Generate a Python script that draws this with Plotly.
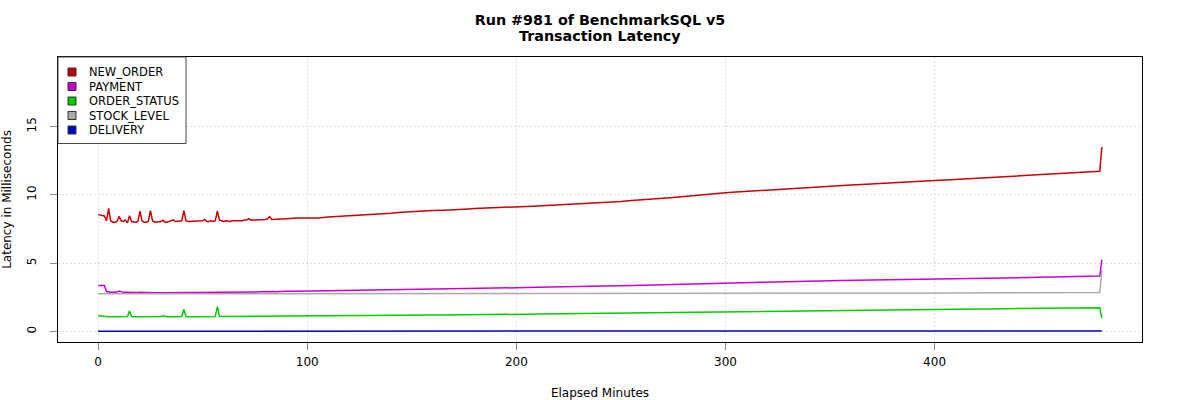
import plotly.graph_objects as go

# ---------------- data ----------------
series_names = ["NEW_ORDER", "PAYMENT", "ORDER_STATUS", "STOCK_LEVEL", "DELIVERY"]
series_colors = ["#CC0000", "#CC00CC", "#00CC00", "#AAAAAA", "#0000CC"]

# elapsed minutes: every minute up to 90, then every 5 minutes, then the last two samples
minutes_fine = list(range(0, 91))
minutes_coarse = list(range(95, 480, 5)) + [479, 480]
minutes = minutes_fine + minutes_coarse

new_order_fine = [
    8.55, 8.50, 8.50, 8.45, 8.10, 9.00, 8.10, 8.00, 8.00, 8.05,
    8.42, 8.10, 8.05, 8.15, 7.95, 8.47, 8.05, 8.00, 8.00, 8.05,
    8.80, 8.10, 8.00, 8.00, 8.05, 8.85, 8.10, 8.00, 8.00, 8.00,
    8.05, 8.15, 8.00, 8.00, 8.05, 8.10, 8.17, 8.05, 8.05, 8.05,
    8.10, 8.85, 8.10, 8.05, 8.05, 8.05, 8.10, 8.05, 8.05, 8.10,
    8.10, 8.20, 8.05, 8.05, 8.10, 8.05, 8.10, 8.80, 8.15, 8.10,
    8.05, 8.10, 8.05, 8.05, 8.10, 8.10, 8.10, 8.05, 8.10, 8.10,
    8.15, 8.15, 8.25, 8.15, 8.15, 8.15, 8.15, 8.20, 8.15, 8.15,
    8.20, 8.25, 8.40, 8.20, 8.20, 8.20, 8.20, 8.25, 8.20, 8.25,
    8.25,
]
new_order_coarse = [
    8.30, 8.32, 8.30, 8.38, 8.42, 8.45, 8.50, 8.55, 8.60, 8.65,
    8.72, 8.78, 8.80, 8.85, 8.88, 8.90, 8.95, 9.00, 9.02, 9.05,
    9.08, 9.10, 9.15, 9.18, 9.22, 9.25, 9.30, 9.32, 9.38, 9.42,
    9.48, 9.52, 9.58, 9.65, 9.70, 9.75, 9.80, 9.88, 9.95, 10.02,
    10.10, 10.15, 10.20, 10.25, 10.30, 10.35, 10.42, 10.47, 10.50, 10.55,
    10.60, 10.65, 10.68, 10.72, 10.75, 10.80, 10.85, 10.88, 10.92, 10.97,
    11.00, 11.05, 11.08, 11.12, 11.15, 11.20, 11.25, 11.30, 11.35, 11.40,
    11.42, 11.48, 11.52, 11.57, 11.60, 11.65, 11.68, 11.72, 13.50,
]

payment_fine = [
    3.36, 3.36, 3.37, 3.36, 2.92, 2.88, 2.87, 2.87, 2.86, 2.88,
    2.95, 2.88, 2.86, 2.86, 2.85, 2.85, 2.85, 2.84, 2.84, 2.85,
    2.86, 2.85, 2.84, 2.84, 2.84, 2.85, 2.85, 2.84, 2.84, 2.84,
    2.85, 2.87, 2.85, 2.84, 2.84, 2.85, 2.89, 2.85, 2.85, 2.84,
    2.85, 2.86, 2.85, 2.85, 2.85, 2.85, 2.85, 2.85, 2.86, 2.85,
    2.86, 2.88, 2.86, 2.86, 2.86, 2.86, 2.86, 2.87, 2.86, 2.86,
    2.86, 2.87, 2.87, 2.87, 2.87, 2.87, 2.88, 2.88, 2.88, 2.87,
    2.88, 2.88, 2.89, 2.88, 2.88, 2.89, 2.89, 2.90, 2.91, 2.90,
    2.90, 2.91, 2.90, 2.91, 2.92, 2.91, 2.92, 2.92, 2.93, 2.93,
    2.94,
]
payment_coarse = [
    2.95, 2.96, 2.97, 2.98, 3.00, 3.01, 3.02, 3.03, 3.05, 3.06,
    3.07, 3.08, 3.09, 3.10, 3.12, 3.13, 3.14, 3.15, 3.17, 3.18,
    3.19, 3.20, 3.21, 3.23, 3.24, 3.26, 3.27, 3.29, 3.30, 3.32,
    3.33, 3.35, 3.37, 3.39, 3.41, 3.44, 3.46, 3.48, 3.50, 3.52,
    3.54, 3.56, 3.57, 3.59, 3.60, 3.62, 3.63, 3.65, 3.66, 3.68,
    3.69, 3.71, 3.72, 3.73, 3.74, 3.76, 3.77, 3.78, 3.79, 3.80,
    3.82, 3.83, 3.84, 3.86, 3.87, 3.88, 3.89, 3.90, 3.92, 3.93,
    3.94, 3.96, 3.97, 3.99, 4.00, 4.02, 4.04, 4.05, 5.25,
]

order_status_fine = [
    1.14, 1.12, 1.10, 1.09, 1.08, 1.08, 1.08, 1.08, 1.08, 1.08,
    1.08, 1.08, 1.08, 1.08, 1.09, 1.50, 1.09, 1.08, 1.08, 1.08,
    1.08, 1.08, 1.08, 1.08, 1.08, 1.08, 1.08, 1.08, 1.08, 1.08,
    1.09, 1.15, 1.09, 1.08, 1.08, 1.08, 1.08, 1.08, 1.08, 1.08,
    1.09, 1.62, 1.09, 1.08, 1.08, 1.08, 1.08, 1.08, 1.08, 1.08,
    1.08, 1.08, 1.08, 1.09, 1.09, 1.09, 1.09, 1.82, 1.10, 1.09,
    1.09, 1.09, 1.09, 1.09, 1.09, 1.09, 1.09, 1.09, 1.10, 1.10,
    1.10, 1.10, 1.10, 1.10, 1.10, 1.10, 1.10, 1.10, 1.11, 1.11,
    1.11, 1.11, 1.11, 1.11, 1.11, 1.11, 1.12, 1.12, 1.12, 1.12,
    1.12,
]
order_status_coarse = [
    1.13, 1.14, 1.14, 1.15, 1.15, 1.16, 1.16, 1.17, 1.17, 1.18,
    1.18, 1.19, 1.20, 1.20, 1.21, 1.21, 1.22, 1.22, 1.23, 1.24,
    1.24, 1.25, 1.26, 1.27, 1.28, 1.29, 1.30, 1.31, 1.32, 1.33,
    1.34, 1.35, 1.36, 1.37, 1.38, 1.39, 1.40, 1.41, 1.42, 1.43,
    1.44, 1.45, 1.46, 1.47, 1.48, 1.49, 1.50, 1.51, 1.51, 1.52,
    1.53, 1.54, 1.55, 1.56, 1.57, 1.57, 1.58, 1.59, 1.60, 1.61,
    1.61, 1.62, 1.63, 1.63, 1.64, 1.65, 1.65, 1.66, 1.67, 1.67,
    1.68, 1.69, 1.69, 1.70, 1.71, 1.72, 1.73, 1.74, 0.98,
]

stock_level_fine = [
    2.76, 2.76, 2.76, 2.76, 2.75, 2.75, 2.75, 2.75, 2.75, 2.75,
    2.75, 2.75, 2.75, 2.75, 2.75, 2.75, 2.75, 2.75, 2.75, 2.75,
    2.75, 2.75, 2.75, 2.75, 2.75, 2.75, 2.75, 2.75, 2.75, 2.75,
    2.75, 2.75, 2.75, 2.75, 2.75, 2.75, 2.75, 2.75, 2.75, 2.75,
    2.75, 2.75, 2.75, 2.75, 2.75, 2.75, 2.75, 2.75, 2.75, 2.75,
    2.76, 2.76, 2.76, 2.76, 2.76, 2.76, 2.76, 2.76, 2.76, 2.76,
    2.76, 2.76, 2.76, 2.76, 2.76, 2.76, 2.76, 2.76, 2.76, 2.76,
    2.76, 2.76, 2.76, 2.76, 2.76, 2.76, 2.76, 2.76, 2.76, 2.76,
    2.76, 2.76, 2.76, 2.76, 2.76, 2.76, 2.76, 2.76, 2.76, 2.76,
    2.76,
]
stock_level_coarse = [
    2.76, 2.76, 2.76, 2.76, 2.76, 2.76, 2.76, 2.76, 2.76, 2.76,
    2.76, 2.76, 2.76, 2.77, 2.77, 2.77, 2.77, 2.77, 2.77, 2.77,
    2.77, 2.77, 2.77, 2.77, 2.77, 2.77, 2.77, 2.77, 2.77, 2.77,
    2.77, 2.77, 2.77, 2.77, 2.77, 2.77, 2.77, 2.77, 2.77, 2.77,
    2.77, 2.77, 2.78, 2.78, 2.78, 2.78, 2.78, 2.78, 2.78, 2.78,
    2.78, 2.79, 2.79, 2.79, 2.79, 2.79, 2.80, 2.80, 2.80, 2.80,
    2.80, 2.81, 2.81, 2.81, 2.81, 2.82, 2.82, 2.82, 2.82, 2.83,
    2.83, 2.83, 2.83, 2.84, 2.84, 2.84, 2.84, 2.85, 4.50,
]

delivery_fine = [
    0.02, 0.02, 0.02, 0.02, 0.02, 0.02, 0.02, 0.02, 0.02, 0.02,
    0.02, 0.02, 0.02, 0.02, 0.02, 0.02, 0.02, 0.02, 0.02, 0.02,
    0.02, 0.02, 0.02, 0.02, 0.02, 0.02, 0.02, 0.02, 0.02, 0.02,
    0.02, 0.02, 0.02, 0.02, 0.02, 0.02, 0.02, 0.02, 0.02, 0.02,
    0.02, 0.02, 0.02, 0.02, 0.02, 0.02, 0.02, 0.02, 0.02, 0.02,
    0.02, 0.02, 0.02, 0.02, 0.02, 0.02, 0.02, 0.02, 0.02, 0.02,
    0.02, 0.02, 0.02, 0.02, 0.02, 0.02, 0.02, 0.02, 0.02, 0.02,
    0.02, 0.02, 0.02, 0.02, 0.02, 0.02, 0.02, 0.02, 0.02, 0.02,
    0.02, 0.02, 0.02, 0.02, 0.02, 0.02, 0.02, 0.02, 0.02, 0.02,
    0.02,
]
delivery_coarse = [
    0.02, 0.02, 0.02, 0.02, 0.02, 0.02, 0.02, 0.02, 0.02, 0.02,
    0.02, 0.02, 0.02, 0.02, 0.02, 0.02, 0.02, 0.02, 0.02, 0.02,
    0.02, 0.02, 0.02, 0.02, 0.02, 0.02, 0.02, 0.02, 0.02, 0.02,
    0.02, 0.02, 0.02, 0.02, 0.02, 0.02, 0.02, 0.02, 0.02, 0.02,
    0.02, 0.02, 0.02, 0.02, 0.02, 0.02, 0.02, 0.02, 0.02, 0.02,
    0.02, 0.02, 0.02, 0.02, 0.02, 0.02, 0.02, 0.02, 0.02, 0.02,
    0.02, 0.02, 0.02, 0.02, 0.02, 0.02, 0.02, 0.02, 0.02, 0.02,
    0.02, 0.02, 0.02, 0.02, 0.02, 0.02, 0.02, 0.02, 0.03,
]

series_values = [
    new_order_fine + new_order_coarse,
    payment_fine + payment_coarse,
    order_status_fine + order_status_coarse,
    stock_level_fine + stock_level_coarse,
    delivery_fine + delivery_coarse,
]

x_ticks = [0, 100, 200, 300, 400]
y_ticks = [0, 5, 10, 15]

title_lines = ["Run #981 of BenchmarkSQL v5", "Transaction Latency"]
x_title = "Elapsed Minutes"
y_title = "Latency in Milliseconds"

# ---------------- figure ----------------
W, H = 1200, 400
ML, MR, MT, MB = 58, 58, 57, 58
PW, PH = W - ML - MR, H - MT - MB
FONT = "DejaVu Sans"

fig = go.Figure()
for name, color, vals in zip(series_names, series_colors, series_values):
    n = min(len(minutes), len(vals))
    fig.add_trace(go.Scatter(
        x=minutes[:n], y=vals[:n], mode="lines", name=name,
        line=dict(color=color, width=1.5), showlegend=False,
    ))

def px_x(p):
    return (p - ML) / PW

def px_y(p):
    return (H - MB - p) / PH

shapes = []
annotations = []

# second title line (tighter line spacing than a <br> would give)
annotations.append(dict(text="<b>" + title_lines[1] + "</b>", xref="paper", yref="paper",
                        x=0.5, y=px_y(36), xanchor="center", yanchor="middle",
                        showarrow=False,
                        font=dict(family=FONT, size=14.3, color="black")))

# legend box (top-left, inside the plot)
shapes.append(dict(type="rect", xref="paper", yref="paper",
                   x0=px_x(58), x1=px_x(186), y0=px_y(143.5), y1=px_y(57),
                   fillcolor="white", line=dict(color="#444444", width=1),
                   layer="above"))
row0, row_step = 72, 14.5
for i, (name, color) in enumerate(zip(series_names, series_colors)):
    cy = row0 + i * row_step
    shapes.append(dict(type="rect", xref="paper", yref="paper",
                       x0=px_x(68), x1=px_x(76), y0=px_y(cy + 4), y1=px_y(cy - 4),
                       fillcolor=color, line=dict(color="#333333", width=1),
                       layer="above"))
    annotations.append(dict(text=name, xref="paper", yref="paper",
                            x=px_x(87), y=px_y(cy), xanchor="left", yanchor="middle",
                            showarrow=False,
                            font=dict(family=FONT, size=11.5, color="black")))

fig.update_layout(
    width=W, height=H,
    margin=dict(l=ML, r=MR, t=MT, b=MB, autoexpand=False),
    paper_bgcolor="white", plot_bgcolor="white",
    font=dict(family=FONT, size=12, color="black"),
    title=dict(text="<b>" + title_lines[0] + "</b>",
               x=0.5, xref="paper", xanchor="center",
               y=1 - 20 / H, yref="container", yanchor="middle",
               font=dict(family=FONT, size=14.3, color="black")),
    shapes=shapes, annotations=annotations,
    showlegend=False,
)

fig.update_xaxes(
    range=[-19.2, 499.2], tickvals=x_ticks, ticktext=[str(v) for v in x_ticks],
    showgrid=True, gridcolor="#DDDDDD", griddash="2px,2px", gridwidth=1,
    zeroline=False, showline=True, linecolor="black", linewidth=1, mirror=True,
    ticks="outside", ticklen=7, tickcolor="#888888", tickwidth=1,
    ticklabelstandoff=2,
    tickfont=dict(family=FONT, size=12, color="black"),
    title=dict(text=x_title, standoff=22, font=dict(family=FONT, size=12)),
    automargin=False,
)
fig.update_yaxes(
    range=[-0.773, 20.09], tickvals=y_ticks, ticktext=[str(v) for v in y_ticks],
    tickangle=-90,
    showgrid=True, gridcolor="#DDDDDD", griddash="2px,2px", gridwidth=1,
    zeroline=False, showline=True, linecolor="black", linewidth=1, mirror=True,
    ticks="outside", ticklen=7, tickcolor="#888888", tickwidth=1,
    ticklabelstandoff=9,
    tickfont=dict(family=FONT, size=12, color="black"),
    title=dict(text=y_title, standoff=19, font=dict(family=FONT, size=12)),
    automargin=False,
)

fig.write_html("out.html",
               config={"displayModeBar": False},
               post_script="document.body.style.margin='0';document.body.style.padding='0';")
